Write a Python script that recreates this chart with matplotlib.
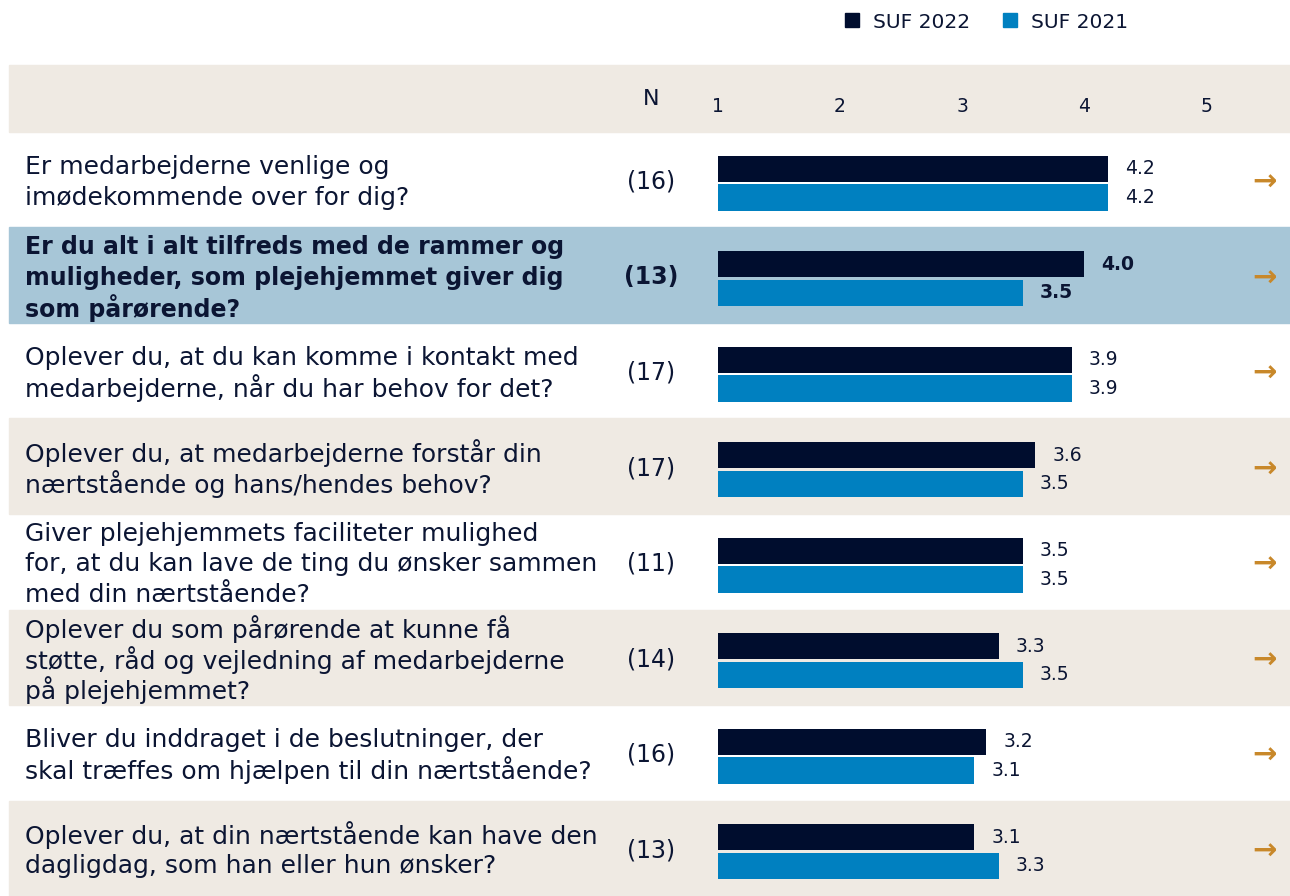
import matplotlib
matplotlib.use("Agg")
import matplotlib.pyplot as plt
from matplotlib.lines import Line2D
import numpy as np

questions = [
    "Er medarbejderne venlige og\nimødekommende over for dig?",
    "Er du alt i alt tilfreds med de rammer og\nmuligheder, som plejehjemmet giver dig\nsom pårørende?",
    "Oplever du, at du kan komme i kontakt med\nmedarbejderne, når du har behov for det?",
    "Oplever du, at medarbejderne forstår din\nnærtstående og hans/hendes behov?",
    "Giver plejehjemmets faciliteter mulighed\nfor, at du kan lave de ting du ønsker sammen\nmed din nærtstående?",
    "Oplever du som pårørende at kunne få\nstøtte, råd og vejledning af medarbejderne\npå plejehjemmet?",
    "Bliver du inddraget i de beslutninger, der\nskal træffes om hjælpen til din nærtstående?",
    "Oplever du, at din nærtstående kan have den\ndagligdag, som han eller hun ønsker?",
]
n_counts = [16, 13, 17, 17, 11, 14, 16, 13]
suf_2022 = [4.2, 4.0, 3.9, 3.6, 3.5, 3.3, 3.2, 3.1]
suf_2021 = [4.2, 3.5, 3.9, 3.5, 3.5, 3.5, 3.1, 3.3]
highlight_row = 1
ticks = [1, 2, 3, 4, 5]
series_labels = ["SUF 2022", "SUF 2021"]

NAVY = "#000D2E"
BLUE = "#0080C0"
BEIGE = "#EFEAE3"
HILITE = "#A7C6D7"
TEXT = "#0B1533"
ORANGE = "#C8882A"
FONT = "DejaVu Sans"

W, H = 1290, 896
fig = plt.figure(figsize=(W / 100, H / 100), dpi=100)
ax = fig.add_axes([0, 0, 1, 1])

# scale: value 1 at px 718, 122 px per unit
px0, unit = 718, 122
xmin = 1 - px0 / unit
xmax = 1 + (W - px0) / unit
row_h = 95.5
ax.set_xlim(xmin, xmax)
ax.set_ylim(len(questions), -132 / row_h)
ax.axis("off")

# header band
ax.axhspan(-67 / row_h, 0, xmin=9 / W, xmax=1, color=BEIGE, zorder=0)
for i in range(len(questions)):
    if i == highlight_row:
        ax.axhspan(i, i + 1, xmin=9 / W, xmax=1, color=HILITE, zorder=0)
    elif i % 2 == 1:
        ax.axhspan(i, i + 1, xmin=9 / W, xmax=1, color=BEIGE, zorder=0)

y = np.arange(len(questions)) + 0.5 + 0.035
bh = 0.275
off = 0.15
ax.barh(y - off, np.array(suf_2022) - 1, left=1, height=bh, color=NAVY, zorder=2)
ax.barh(y + off, np.array(suf_2021) - 1, left=1, height=bh, color=BLUE, zorder=2)

q_x = xmin + 25 / unit
n_x = xmin + 651 / unit
lab_off = 17 / unit
line_gap = 30.5 / row_h
for i, q in enumerate(questions):
    bold = i == highlight_row
    fw = "bold" if bold else "normal"
    qs = 17 if bold else 18
    lines = q.split("\n")
    for k, ln in enumerate(lines):
        yy = i + 0.5 + (k - (len(lines) - 1) / 2) * line_gap
        ax.text(q_x, yy, ln, ha="left", va="center_baseline", fontsize=qs, color=TEXT,
                family=FONT, fontweight=fw)
    ax.text(n_x, i + 0.52, f"({n_counts[i]})", ha="center", va="center", fontsize=17,
            color=TEXT, family=FONT, fontweight=fw)
    ax.text(suf_2022[i] + lab_off, y[i] - off, f"{suf_2022[i]:.1f}", ha="left", va="center",
            fontsize=13.5, color=TEXT, family=FONT, fontweight=fw)
    ax.text(suf_2021[i] + lab_off, y[i] + off, f"{suf_2021[i]:.1f}", ha="left", va="center",
            fontsize=13.5, color=TEXT, family=FONT, fontweight=fw)
    ax.text(xmin + 1264 / unit, y[i], "→", ha="center", va="center", fontsize=21,
            color=ORANGE, family="DejaVu Sans", fontweight="bold")

# header
ax.text(n_x, -33 / row_h, "N", ha="center", va="center", fontsize=16, color=TEXT, family=FONT)
for t in ticks:
    ax.text(t, -25 / row_h, str(t), ha="center", va="center", fontsize=13.5, color=TEXT, family=FONT)

handles = [Line2D([], [], marker="s", linestyle="none", markersize=10, color=NAVY),
           Line2D([], [], marker="s", linestyle="none", markersize=10, color=BLUE)]
fig.legend(handles, series_labels, loc="center", bbox_to_anchor=(980 / W, 1 - 22 / H),
           ncol=2, frameon=False, handletextpad=0.05, columnspacing=1.0,
           prop={"family": FONT, "size": 14.5}, labelcolor=TEXT)

fig.savefig("out.png", dpi=100)
